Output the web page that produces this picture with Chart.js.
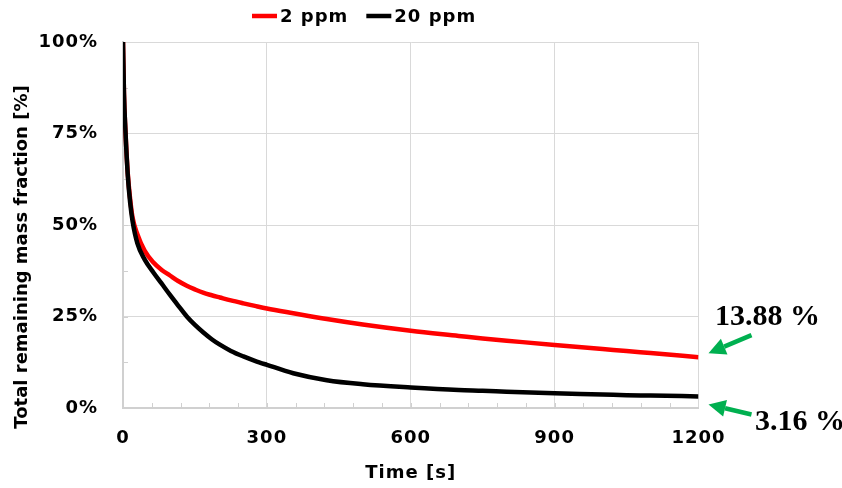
<!DOCTYPE html>
<html>
<head>
<meta charset="utf-8">
<script src="https://cdn.jsdelivr.net/npm/chart.js@4.4.1/dist/chart.umd.min.js"></script>
<style>
  html, body { margin: 0; padding: 0; background: #fff; }
  #wrap { width: 842px; height: 488px; position: relative; }
</style>
</head>
<body>
<div id="wrap"><canvas id="chart"></canvas></div>
<script>
// time points [s]
const times = [0, 2, 5, 10, 15, 20, 30, 45, 63, 80, 98, 115, 133, 150, 167, 185, 202, 225, 251, 275, 300, 355, 425, 500, 600, 700, 750, 800, 900, 1000, 1050, 1100, 1200];
// remaining mass fraction [%]
const ppm2 = [100, 86, 76, 64, 57, 52, 47.5, 43, 39.8, 37.8, 36.2, 34.7, 33.4, 32.4, 31.5, 30.8, 30.2, 29.4, 28.6, 27.9, 27.2, 25.9, 24.3, 22.8, 21.1, 19.7, 19.0, 18.4, 17.2, 16.1, 15.6, 15.0, 13.88];
const ppm20 = [100, 86, 76, 63.5, 56, 51, 45, 40.6, 37.1, 34.1, 30.9, 28.0, 25.0, 22.7, 20.7, 18.8, 17.3, 15.6, 14.1, 12.9, 11.8, 9.5, 7.6, 6.5, 5.6, 4.9, 4.7, 4.45, 4.0, 3.7, 3.5, 3.4, 3.16];
const seriesLabels = ['2 ppm', '20 ppm'];
const endLabels = ['13.88 %', '3.16 %'];
const xTicks = [0, 300, 600, 900, 1200];
const yTicks = [0, 25, 50, 75, 100];
const minorX = 60;
const minorY = 12.5;
const yTitle = 'Total remaining mass fraction [%]';

const FONT = '"DejaVu Sans", sans-serif';
const toPts = (ys) => times.map((t, i) => ({ x: t, y: ys[i] }));

const spacing = {
    id: 'spacing',
    beforeDraw(chart) {
        chart.ctx.letterSpacing = '1px';
    }
};

const minorTicks = {
    id: 'minorTicks',
    beforeDatasetsDraw(chart) {
        const { ctx, chartArea: a, scales: { x, y } } = chart;
        ctx.save();
        ctx.strokeStyle = '#d0d0d0';
        ctx.lineWidth = 1;
        ctx.beginPath();
        for (let v = minorX; v < 1200; v += minorX) {
            const px = Math.round(x.getPixelForValue(v)) + 0.5;
            ctx.moveTo(px, a.bottom);
            ctx.lineTo(px, a.bottom - 5);
        }
        for (let v = minorY; v < 100; v += minorY) {
            const py = Math.round(y.getPixelForValue(v)) + 0.5;
            ctx.moveTo(a.left, py);
            ctx.lineTo(a.left + 5, py);
        }
        ctx.stroke();
        ctx.restore();
    }
};

const yAxisTitle = {
    id: 'yAxisTitle',
    afterDraw(chart) {
        const ctx = chart.ctx;
        ctx.save();
        ctx.letterSpacing = '0px';
        ctx.font = 'bold 18px ' + FONT;
        ctx.fillStyle = '#000';
        ctx.textAlign = 'center';
        ctx.textBaseline = 'middle';
        ctx.translate(22, 257);
        ctx.rotate(-Math.PI / 2);
        ctx.fillText(yTitle, 0, 0);
        ctx.restore();
    }
};

const topLegend = {
    id: 'topLegend',
    afterDraw(chart) {
        const ctx = chart.ctx;
        ctx.save();
        ctx.font = 'bold 18px ' + FONT;
        ctx.letterSpacing = '1px';
        ctx.textBaseline = 'middle';
        ctx.fillStyle = '#000';
        let x = 252;
        const y = 16;
        chart.data.datasets.forEach((ds) => {
            ctx.strokeStyle = ds.borderColor;
            ctx.lineWidth = 4.5;
            ctx.beginPath();
            ctx.moveTo(x, y);
            ctx.lineTo(x + 25, y);
            ctx.stroke();
            x += 28;
            ctx.fillText(ds.label, x, y + 1);
            x += ctx.measureText(ds.label).width + 18;
        });
        ctx.restore();
    }
};

function arrow(ctx, x0, y0, x1, y1) {
    const ang = Math.atan2(y1 - y0, x1 - x0);
    const hl = 17, hw = 8.5;
    const bx = x1 - hl * Math.cos(ang), by = y1 - hl * Math.sin(ang);
    ctx.beginPath();
    ctx.moveTo(x0, y0);
    ctx.lineTo(bx, by);
    ctx.stroke();
    ctx.beginPath();
    ctx.moveTo(x1, y1);
    ctx.lineTo(bx + hw * Math.sin(ang), by - hw * Math.cos(ang));
    ctx.lineTo(bx - hw * Math.sin(ang), by + hw * Math.cos(ang));
    ctx.closePath();
    ctx.fill();
}

const endNotes = {
    id: 'endNotes',
    afterDraw(chart) {
        const { ctx, scales: { x, y } } = chart;
        const ex = x.getPixelForValue(1200);
        const r = y.getPixelForValue(ppm2[ppm2.length - 1]);
        const b = y.getPixelForValue(ppm20[ppm20.length - 1]);
        ctx.save();
        ctx.letterSpacing = '0px';
        ctx.strokeStyle = '#00b050';
        ctx.fillStyle = '#00b050';
        ctx.lineWidth = 4.5;
        arrow(ctx, ex + 53, r - 22, ex + 10, r - 4);
        arrow(ctx, ex + 53, b + 18, ex + 10, b + 8);
        ctx.fillStyle = '#000';
        ctx.font = 'bold 30px "Liberation Serif", serif';
        ctx.textBaseline = 'alphabetic';
        ctx.fillText(endLabels[0], ex + 16.5, r - 32);
        ctx.fillText(endLabels[1], ex + 56.5, b + 34);
        ctx.restore();
    }
};

new Chart(document.getElementById('chart'), {
    type: 'line',
    data: {
        datasets: [
            {
                label: seriesLabels[0],
                data: toPts(ppm2),
                borderColor: '#ff0000',
                backgroundColor: '#ff0000',
                borderWidth: 4.5,
                pointRadius: 0,
                fill: false,
                cubicInterpolationMode: 'monotone',
                order: 1,
            },
            {
                label: seriesLabels[1],
                data: toPts(ppm20),
                borderColor: '#000000',
                backgroundColor: '#000000',
                borderWidth: 4.5,
                pointRadius: 0,
                fill: false,
                cubicInterpolationMode: 'monotone',
                order: 0,
            },
        ],
    },
    options: {
        responsive: true,
        maintainAspectRatio: false,
        animation: false,
        layout: { padding: { top: 42, right: 143.5, left: 0, bottom: 0 } },
        plugins: {
            legend: { display: false },
            tooltip: { enabled: false },
        },
        scales: {
            x: {
                type: 'linear',
                min: 0,
                max: 1200,
                afterFit: (s) => { s.height = 80; },
                afterBuildTicks: (s) => { s.ticks = xTicks.map((v) => ({ value: v })); },
                grid: { color: '#d9d9d9', lineWidth: 1, drawTicks: false },
                border: { color: '#d0d0d0', width: 2 },
                ticks: {
                    padding: 20,
                    color: '#000',
                    maxRotation: 0,
                    callback: (v) => String(v),
                    font: { family: FONT, size: 18, weight: 'bold' },
                },
                title: {
                    display: true,
                    text: 'Time [s]',
                    color: '#000',
                    padding: { top: 0, bottom: 4 },
                    font: { family: FONT, size: 18, weight: 'bold' },
                },
            },
            y: {
                min: 0,
                max: 100,
                afterFit: (s) => { s.width = 123; },
                afterBuildTicks: (s) => { s.ticks = yTicks.map((v) => ({ value: v })); },
                grid: { color: '#d9d9d9', lineWidth: 1, drawTicks: false },
                border: { color: '#d0d0d0', width: 2 },
                ticks: {
                    padding: 25,
                    color: '#000',
                    callback: (v) => v + '%',
                    font: { family: FONT, size: 18, weight: 'bold' },
                },
                title: { display: false },
            },
        },
    },
    plugins: [spacing, minorTicks, yAxisTitle, topLegend, endNotes],
});
</script>
</body>
</html>
